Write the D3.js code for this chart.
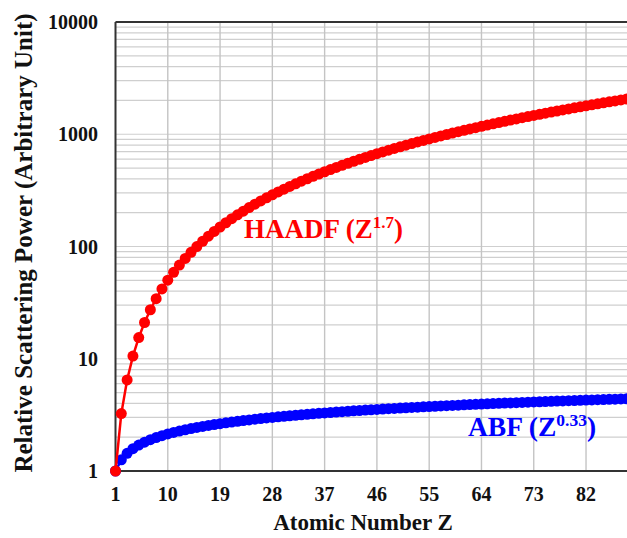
<!DOCTYPE html>
<html><head><meta charset="utf-8">
<script src="https://cdn.jsdelivr.net/npm/d3@7"></script>
<style>html,body{margin:0;padding:0;background:#fff;overflow:hidden}</style>
</head><body>
<div id="chart"></div>
<script>
const atomicNumbers = d3.range(1, 93);
const haadfValues = [1,3.249,6.473,10.56,15.43,21.03,27.33,34.30,41.90,50.12,58.94,68.33,78.29,88.81,99.87,111.4,123.5,136.1,149.2,162.8,176.9,191.5,206.5,222.0,238.0,254.4,271.2,288.5,306.2,324.4,343.0,362.0,381.5,401.3,421.6,442.3,463.4,484.9,506.8,529.1,551.7,574.8,598.3,622.1,646.4,670.9,695.9,721.2,747.0,773.1,799.6,826.4,853.7,881.2,909.1,937.4,966.1,995.0,1024.4,1054.0,1084.0,1114.5,1145.2,1176.2,1207.7,1239.5,1271.5,1304.0,1336.7,1369.9,1403.2,1437.0,1471.2,1505.6,1540.4,1575.3,1610.8,1646.5,1682.5,1718.9,1755.6,1792.6,1830.0,1867.7,1905.6,1943.8,1982.4,2021.3,2060.4,2100.2,2139.9,2180.1];
const abfValues = [1,1.257,1.437,1.580,1.701,1.806,1.900,1.986,2.065,2.138,2.206,2.270,2.331,2.389,2.444,2.497,2.547,2.596,2.642,2.687,2.731,2.773,2.814,2.854,2.893,2.931,2.967,3.003,3.038,3.072,3.106,3.138,3.170,3.202,3.232,3.263,3.292,3.321,3.350,3.378,3.406,3.433,3.460,3.486,3.512,3.537,3.563,3.588,3.612,3.636,3.660,3.684,3.707,3.730,3.753,3.775,3.797,3.819,3.841,3.862,3.883,3.904,3.925,3.945,3.966,3.986,4.005,4.025,4.044,4.064,4.083,4.101,4.120,4.139,4.157,4.175,4.193,4.211,4.229,4.246,4.264,4.281,4.298,4.315,4.332,4.349,4.365,4.382,4.398,4.414,4.430,4.447];
const xTicks = [1,10,19,28,37,46,55,64,73,82];
const yTicks = [1,10,100,1000,10000];
const yMinor = [];
[1,10,100,1000].forEach(d => { for (let m = 2; m <= 9; m++) yMinor.push(d*m); });

const W = 627, H = 538;
const FONT = "Liberation Serif";
const svg = d3.select("#chart").append("svg").attr("width", W).attr("height", H)
  .attr("font-family", FONT).attr("font-weight", "bold");

const x = d3.scaleLinear().domain([1, 92]).range([115.5, 115.5 + 91*5.809]);
const y = d3.scaleLog().domain([1, 10000]).range([471, 22]);
const xr = x.range()[1];

// grid
const g = svg.append("g");
g.selectAll("line.h").data(yMinor.concat(yTicks)).join("line").attr("class", "h")
  .attr("x1", x(1)).attr("x2", xr).attr("y1", d => y(d)).attr("y2", d => y(d))
  .attr("stroke", "#cfcfcf").attr("stroke-width", 1.2);
g.selectAll("line.v").data(xTicks.slice(1)).join("line").attr("class", "v")
  .attr("x1", d => x(d)).attr("x2", d => x(d)).attr("y1", y(1)).attr("y2", y(10000))
  .attr("stroke", "#c4c4c4").attr("stroke-width", 1.4);

// axes frame
svg.append("line").attr("x1", x(1)).attr("x2", x(1)).attr("y1", y(1)).attr("y2", y(10000)).attr("stroke", "#333").attr("stroke-width", 2);
svg.append("line").attr("x1", x(1)).attr("x2", xr).attr("y1", y(1)).attr("y2", y(1)).attr("stroke", "#333").attr("stroke-width", 2);
svg.append("line").attr("x1", x(1)).attr("x2", xr).attr("y1", y(10000)).attr("y2", y(10000)).attr("stroke", "#333").attr("stroke-width", 2);

// tick labels
svg.selectAll("text.yl").data(yTicks).join("text").attr("class", "yl")
  .attr("x", 98).attr("y", d => y(d) + 7).attr("text-anchor", "end")
  .attr("font-size", 20).attr("fill", "#111").text(d => d);
svg.selectAll("text.xl").data(xTicks).join("text").attr("class", "xl")
  .attr("x", d => x(d)).attr("y", 501).attr("text-anchor", "middle")
  .attr("font-size", 20).attr("fill", "#111").text(d => d);

// titles
svg.append("text").attr("transform", "translate(32,243) rotate(-90)")
  .attr("text-anchor", "middle").attr("font-size", 25).attr("fill", "#111")
  .text("Relative Scattering Power (Arbitrary Unit)");
svg.append("text").attr("x", 363).attr("y", 530)
  .attr("text-anchor", "middle").attr("font-size", 23).attr("fill", "#111")
  .text("Atomic Number Z");

// series
const abf = atomicNumbers.map((z, i) => [z, abfValues[i]]);
const haadf = atomicNumbers.map((z, i) => [z, haadfValues[i]]);
const line = d3.line().x(d => x(d[0])).y(d => y(d[1]));

svg.append("path").attr("d", line(abf)).attr("fill", "none").attr("stroke", "#0000ff").attr("stroke-width", 2.5);
svg.selectAll("circle.abf").data(abf).join("circle").attr("class", "abf")
  .attr("cx", d => x(d[0])).attr("cy", d => y(d[1])).attr("r", 5.5).attr("fill", "#0000ff");

svg.append("path").attr("d", line(haadf)).attr("fill", "none").attr("stroke", "#ff0000").attr("stroke-width", 2.5);
svg.selectAll("circle.haadf").data(haadf).join("circle").attr("class", "haadf")
  .attr("cx", d => x(d[0])).attr("cy", d => y(d[1])).attr("r", 5.5).attr("fill", "#ff0000");

// labels
const t1 = svg.append("text").attr("x", 244).attr("y", 238)
  .attr("font-size", 27).attr("fill", "#ff0000");
t1.append("tspan").text("HAADF (Z");
t1.append("tspan").attr("dy", -10).attr("font-size", 17).text("1.7");
t1.append("tspan").attr("dy", 10).text(")");

const t2 = svg.append("text").attr("x", 468).attr("y", 436)
  .attr("font-size", 27.5).attr("fill", "#0000ff");
t2.append("tspan").text("ABF (Z");
t2.append("tspan").attr("dy", -10).attr("font-size", 17.5).text("0.33");
t2.append("tspan").attr("dy", 10).text(")");
</script>
</body></html>
